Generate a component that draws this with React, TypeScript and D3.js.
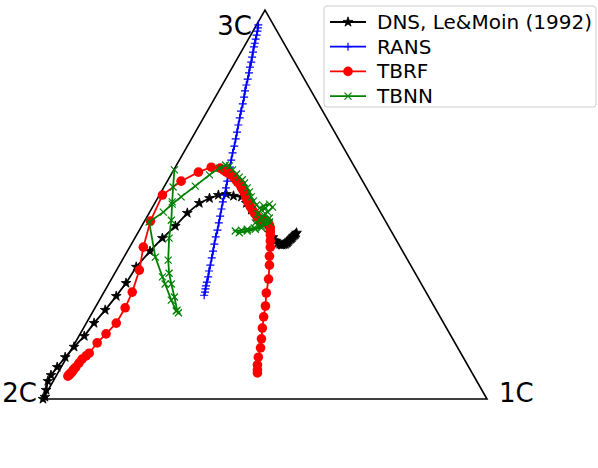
import React from 'react';
import * as d3 from 'd3';

const W = 598, H = 468;

// corners of the barycentric map
const cornerNames = ['2C', '1C', '3C'];
const cornerPts: [number, number][] = [[0, 0], [1, 0], [0.5, 0.866]];

// DNS, Le&Moin (1992)
const dns: [number, number][] = [
  [0, 0], [.0045, .0045], [.007, .020], [.011, .040], [.018, .053], [.032, .071], [.050, .093],
  [.070, .116], [.093, .140], [.115, .169], [.140, .198], [.165, .229], [.187, .258], [.210, .294],
  [.241, .329], [.269, .358], [.298, .385], [.325, .414], [.352, .436], [.375, .447], [.395, .454],
  [.413, .456], [.429, .452], [.447, .450], [.458, .436], [.469, .421], [.481, .405], [.494, .392],
  [.510, .370], [.518, .360], [.524, .352], [.529, .347], [.533, .345], [.536, .343], [.539, .343],
  [.543, .344], [.546, .345], [.549, .347], [.551, .349], [.553, .351], [.555, .354], [.558, .356],
  [.560, .358], [.562, .360], [.564, .363], [.567, .365], [.569, .367], [.571, .370],
];

// RANS
const rans: [number, number][] = [
  [.485, .833], [.484, .826], [.483, .819], [.481, .810], [.479, .801], [.477, .792], [.475, .784],
  [.473, .772], [.471, .761], [.469, .750], [.466, .739], [.464, .726], [.461, .712], [.458, .699],
  [.455, .686], [.453, .672], [.450, .657], [.446, .641], [.443, .626], [.440, .610], [.437, .594],
  [.434, .579], [.431, .563], [.427, .548], [.424, .532], [.421, .516], [.418, .501], [.415, .485],
  [.412, .470], [.409, .454], [.405, .439], [.402, .423], [.399, .407], [.396, .392], [.393, .376],
  [.389, .361], [.386, .345], [.383, .329], [.380, .314], [.377, .298], [.374, .285], [.372, .272],
  [.369, .260], [.367, .252], [.366, .245], [.365, .238], [.363, .231],
];

// TBRF
const tbrf: [number, number][] = [
  [.056, .051], [.059, .054], [.061, .056], [.063, .058], [.065, .060], [.068, .064], [.070, .067],
  [.074, .071], [.081, .080], [.088, .089], [.097, .096], [.104, .102], [.122, .125], [.142, .145],
  [.165, .169], [.185, .203], [.201, .238], [.217, .287], [.226, .338], [.242, .396], [.269, .454],
  [.311, .485], [.350, .505], [.379, .516], [.399, .514], [.407, .509], [.413, .505], [.419, .502],
  [.424, .499], [.428, .496], [.431, .492], [.435, .487], [.438, .483], [.442, .480], [.445, .476],
  [.447, .471], [.449, .467], [.452, .463], [.454, .459], [.456, .453], [.458, .447], [.461, .441],
  [.463, .436], [.466, .430], [.469, .425], [.473, .419], [.476, .414], [.480, .409], [.483, .405],
  [.488, .401], [.494, .398], [.500, .395], [.506, .392], [.510, .387], [.512, .381], [.512, .373],
  [.512, .365], [.512, .352], [.512, .338], [.510, .318], [.510, .298], [.508, .267], [.503, .236],
  [.501, .207], [.497, .183], [.494, .158], [.492, .134], [.490, .114], [.485, .093], [.483, .076],
  [.483, .065], [.483, .058],
];

// TBNN
const tbnn: [number, number][] = [
  [.296, .510], [.293, .472], [.291, .439], [.289, .398], [.284, .358], [.282, .309], [.284, .280],
  [.289, .256], [.296, .227], [.302, .198], [.305, .192], [.300, .196], [.289, .220], [.275, .256],
  [.269, .272], [.253, .316], [.239, .394], [.271, .416], [.291, .434], [.311, .450], [.343, .474],
  [.375, .499], [.397, .514], [.411, .521], [.420, .519], [.427, .510], [.436, .501], [.442, .494],
  [.449, .488], [.454, .481], [.460, .470], [.465, .461], [.469, .450], [.474, .441], [.481, .432],
  [.488, .425], [.497, .430], [.510, .434], [.517, .427], [.506, .416], [.497, .410], [.510, .403],
  [.501, .396], [.488, .398], [.478, .392], [.492, .385], [.476, .381], [.460, .378], [.447, .376],
  [.433, .374], [.442, .370], [.460, .374], [.478, .378], [.492, .381], [.501, .390], [.510, .394],
  [.494, .403], [.483, .412], [.492, .421], [.501, .425],
];

const labels = ['DNS, Le&Moin (1992)', 'RANS', 'TBRF', 'TBNN'];
const colors = ['black', '#0000ff', '#ff0000', '#008000'];
const markers = ['star', 'plus', 'circle', 'cross'];

const font = '"DejaVu Sans", sans-serif';

function Marker({ kind, color, x, y }: { kind: string; color: string; x: number; y: number }) {
  if (kind === 'star') {
    const p = d3.symbol().type(d3.symbolStar).size(30)();
    return <path d={p || ''} transform={`translate(${x},${y})`} fill={color} stroke={color} strokeWidth={0.8} />;
  }
  if (kind === 'plus') {
    const s = 4;
    return <path d={`M${x - s},${y}H${x + s}M${x},${y - s}V${y + s}`} stroke={color} strokeWidth={1.2} fill="none" />;
  }
  if (kind === 'circle') {
    return <circle cx={x} cy={y} r={4.8} fill={color} />;
  }
  const s = 3.5;
  return <path d={`M${x - s},${y - s}L${x + s},${y + s}M${x - s},${y + s}L${x + s},${y - s}`} stroke={color} strokeWidth={1.2} fill="none" />;
}

export default function App() {
  const x = d3.scaleLinear().domain([0, 1]).range([43, 487]);
  const y = d3.scaleLinear().domain([0, 0.866]).range([399, 10]);
  const line = d3.line<[number, number]>().x(d => x(d[0])).y(d => y(d[1]));
  const series = [dns, rans, tbrf, tbnn];

  const tri = line([...cornerPts, cornerPts[0]]) || '';

  return (
    <svg width={W} height={H} style={{ position: 'absolute', left: 0, top: 0, background: 'white' }}>
      <path d={tri} fill="none" stroke="black" strokeWidth={1.6} strokeLinejoin="miter" />
      <text x={x(cornerPts[0][0]) - 6} y={y(cornerPts[0][1]) + 3} textAnchor="end" fontFamily={font} fontSize={26}>{cornerNames[0]}</text>
      <text x={x(cornerPts[1][0]) + 12} y={y(cornerPts[1][1]) + 3} textAnchor="start" fontFamily={font} fontSize={26}>{cornerNames[1]}</text>
      <text x={x(cornerPts[2][0]) - 13} y={y(cornerPts[2][1]) + 25} textAnchor="end" fontFamily={font} fontSize={26}>{cornerNames[2]}</text>

      {series.map((s, i) => (
        <g key={labels[i]}>
          <path d={line(s) || ''} fill="none" stroke={colors[i]} strokeWidth={1.8} />
          {s.map((d, j) => (
            <Marker key={j} kind={markers[i]} color={colors[i]} x={x(d[0])} y={y(d[1])} />
          ))}
        </g>
      ))}

      <g>
        <rect x={324} y={6} width={272} height={101} rx={3} fill="white" fillOpacity={0.8} stroke="#cccccc" />
        {labels.map((l, i) => {
          const cy = 22 + i * 24.7;
          return (
            <g key={l}>
              <line x1={330} x2={366} y1={cy} y2={cy} stroke={colors[i]} strokeWidth={1.8} />
              <Marker kind={markers[i]} color={colors[i]} x={348} y={cy} />
              <text x={377} y={cy + 7} fontFamily={font} fontSize={20}>{l}</text>
            </g>
          );
        })}
      </g>
    </svg>
  );
}
